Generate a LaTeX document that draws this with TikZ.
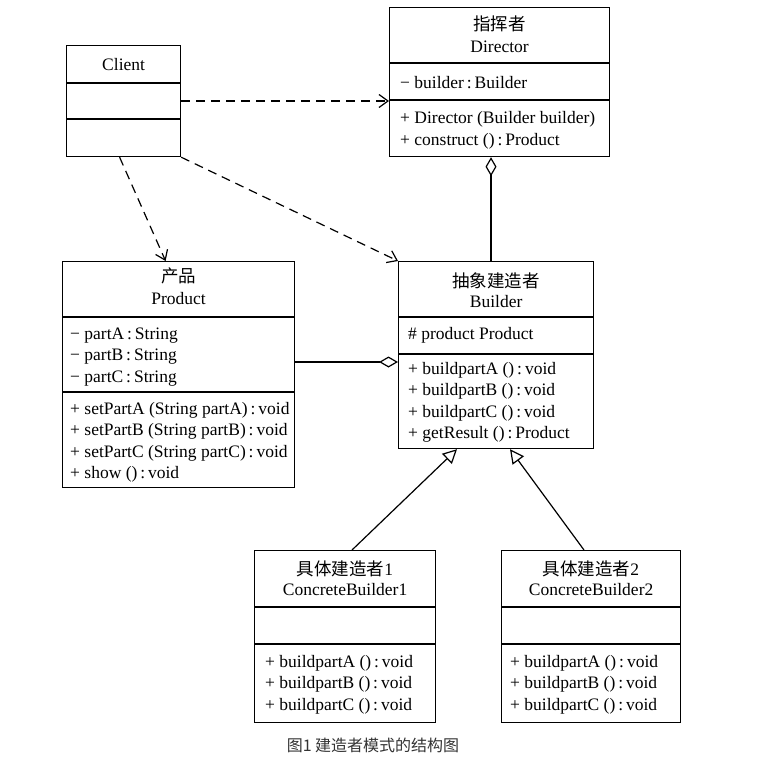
\documentclass[tikz,border=0pt]{standalone}
\usepackage{fontspec}
\setmainfont{Liberation Serif}
\newfontfamily\cjk{Noto Sans CJK SC}
\usetikzlibrary{arrows.meta,positioning,calc}

\begin{document}
\begin{tikzpicture}[x=1pt,y=-1pt,
    cls/.style={draw, line width=1.2pt, anchor=north west, inner sep=0pt},
    ttl/.style={anchor=base, inner sep=0pt, font=\fontsize{17.5}{20}\selectfont},
    mem/.style={anchor=base west, inner sep=0pt, font=\fontsize{17.5}{20}\selectfont},
    dep/.style={-{Straight Barb[length=9pt,width=13pt]}, line width=1.2pt, dash pattern=on 9pt off 6pt},
    agg/.style={-{Diamond[open,length=19pt,width=11pt]}, line width=1.2pt},
    inh/.style={-{Triangle[open,length=14pt,width=14pt]}, line width=1.2pt}
]
\fill[white] (0,0) rectangle (758,773);
\useasboundingbox (0,0) rectangle (758,773);

% class boxes
\node[cls, minimum width=114pt, minimum height=111pt] (client) at (66,45) {};
\node[cls, minimum width=220pt, minimum height=149pt] (director) at (389,7) {};
\node[cls, minimum width=232pt, minimum height=226pt] (product) at (62,261) {};
\node[cls, minimum width=195pt, minimum height=187pt] (builder) at (398,261) {};
\node[cls, minimum width=181pt, minimum height=172pt] (cbone) at (254,550) {};
\node[cls, minimum width=179pt, minimum height=172pt] (cbtwo) at (501,550) {};

\foreach \b/\ya/\yb in {client/83/119, director/63/100, product/317/392,
                        builder/317/354, cbone/607/644, cbtwo/607/644}
  \draw[line width=1.2pt] (\b.west |- 0,\ya) -- (\b.east |- 0,\ya)
                          (\b.west |- 0,\yb) -- (\b.east |- 0,\yb);

% titles
\node[ttl] (clientname) at (client.north |- 0,71) {Client};
\node[ttl] (directorcn) at (director.north |- 0,31) {\cjk 指挥者};
\node[ttl] (directoren) at (director.north |- 0,53) {Director};
\node[ttl] (productcn) at (product.north |- 0,282) {\cjk 产品};
\node[ttl] (producten) at (product.north |- 0,304) {Product};
\node[ttl] (buildercn) at (builder.north |- 0,287) {\cjk 抽象建造者};
\node[ttl] (builderen) at (builder.north |- 0,307) {Builder};
\node[ttl] (cbonecn) at (cbone.north |- 0,575) {{\cjk 具体建造者}1};
\node[ttl] (cboneen) at (cbone.north |- 0,595) {ConcreteBuilder1};
\node[ttl] (cbtwocn) at (cbtwo.north |- 0,575) {{\cjk 具体建造者}2};
\node[ttl] (cbtwoen) at (cbtwo.north |- 0,595) {ConcreteBuilder2};

% members
\node[mem] (directorattr) at (400,89) {− builder\,:\,Builder};
\node[mem] (directorop0) at (400,124) {+ Director (Builder builder)};
\node[mem] (directorop1) at (400,146) {+ construct ()\,:\,Product};
\foreach \t [count=\i from 0] in {partA, partB, partC}
  \node[mem] (prodattr\i) at (70,339+21.5*\i) {− \t\,:\,String};
\foreach \t [count=\i from 0] in {A, B, C}
  \node[mem] (prodop\i) at (70,414+21.5*\i) {+ setPart\t\ (String part\t)\,:\,void};
\node[mem] (prodop3) at (70,478.5) {+ show ()\,:\,void};
\node[mem] (builderattr) at (408,339) {\# product Product};
\foreach \t [count=\i from 0] in {A, B, C} {
  \node[mem] (builderop\i) at (408,374+21.5*\i) {+ buildpart\t\ ()\,:\,void};
  \node[mem] (cboneop\i) at (265,667+21.5*\i) {+ buildpart\t\ ()\,:\,void};
  \node[mem] (cbtwoop\i) at (510,667+21.5*\i) {+ buildpart\t\ ()\,:\,void};
}
\node[mem] (builderop3) at (408,438.5) {+ getResult ()\,:\,Product};

% relations
\draw[dep] (client.east |- 0,101) -- (director.west |- 0,101);
\draw[dep] (client.south east) -- (builder.north west);
\draw[dep] ($(client.south)+(-4,0)$) -- ($(product.north)+(-13,0)$);
\draw[agg] (builder.north -| 491,0) -- (director.south -| 491,0);
\draw[agg] (product.east |- 0,362) -- (builder.west |- 0,362);
\draw[inh] (cbone.north -| 352,0) -- (builder.south -| 457,0);
\draw[inh] (cbtwo.north -| 584,0) -- (builder.south -| 510,0);

\node[anchor=base, inner sep=0pt, text=black!80, font=\cjk\fontsize{16}{19}\selectfont] (caption) at (373,751) {图1 建造者模式的结构图};
\end{tikzpicture}
\end{document}
